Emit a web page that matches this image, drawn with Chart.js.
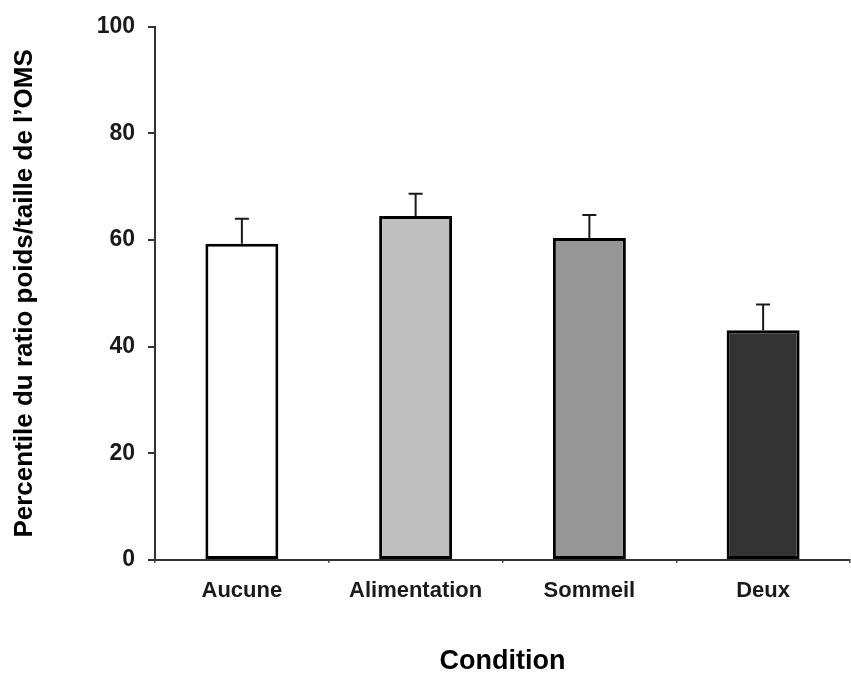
<!DOCTYPE html>
<html>
<head>
<meta charset="utf-8">
<script src="https://cdn.jsdelivr.net/npm/chart.js@4/dist/chart.umd.min.js"></script>
<style>
  html, body { margin: 0; padding: 0; background: #fff; }
  #wrap { width: 851px; height: 674px; }
</style>
</head>
<body>
<div id="wrap"><canvas id="c" width="851" height="674"></canvas></div>
<script>
const categories = ["Aucune", "Alimentation", "Sommeil", "Deux"];
const means = [59.3, 64.5, 60.4, 43.1];
const errors = [4.7, 4.2, 4.3, 4.8];
const barColors = ["#ffffff", "#bfbfbf", "#969696", "#333333"];
const yTicks = [0, 20, 40, 60, 80, 100];
const yTitle = "Percentile du ratio poids/taille de l\u2019OMS";
const xTitle = "Condition";

const FONT = "'Liberation Sans', Arial, sans-serif";

const bgPlugin = {
  id: 'bg',
  beforeDraw(chart) {
    const ctx = chart.ctx;
    ctx.save();
    ctx.fillStyle = '#ffffff';
    ctx.fillRect(0, 0, chart.width, chart.height);
    ctx.restore();
  }
};

const errorBarPlugin = {
  id: 'errorBars',
  afterDatasetsDraw(chart) {
    const ctx = chart.ctx;
    const meta = chart.getDatasetMeta(0);
    const yScale = chart.scales.y;
    ctx.save();
    ctx.strokeStyle = '#1a1a1a';
    ctx.lineWidth = 2;
    meta.data.forEach((bar, i) => {
      const x = bar.x;
      const yTop = yScale.getPixelForValue(means[i] + errors[i]);
      const yBar = yScale.getPixelForValue(means[i]);
      ctx.beginPath();
      ctx.moveTo(x, yBar);
      ctx.lineTo(x, yTop);
      ctx.moveTo(x - 7, yTop);
      ctx.lineTo(x + 7, yTop);
      ctx.stroke();
    });
    ctx.restore();
  }
};

new Chart(document.getElementById('c'), {
  type: 'bar',
  data: {
    labels: categories,
    datasets: [{
      data: means,
      backgroundColor: barColors,
      borderColor: '#000000',
      borderWidth: 3,
      borderSkipped: false,
      barPercentage: 1,
      categoryPercentage: 0.42
    }]
  },
  options: {
    responsive: false,
    animation: false,
    devicePixelRatio: 1,
    layout: { padding: { top: 25, left: 0, right: 1, bottom: 0 } },
    plugins: {
      legend: { display: false },
      tooltip: { enabled: false }
    },
    scales: {
      y: {
        min: 0,
        max: 100,
        afterFit(scale) { scale.width = 155; },
        afterBuildTicks(scale) { scale.ticks = yTicks.map(v => ({ value: v })); },
        ticks: {
          color: '#1a1a1a',
          padding: 13,
          font: { family: FONT, size: 23, weight: 'bold' }
        },
        grid: {
          drawOnChartArea: false,
          drawTicks: true,
          tickLength: 7,
          color: '#333333',
          lineWidth: 2
        },
        border: { display: true, color: '#333333', width: 2 },
        title: {
          display: true,
          text: yTitle,
          color: '#000000',
          padding: { top: 9, bottom: 0 },
          font: { family: FONT, size: 26, weight: 'bold' }
        }
      },
      x: {
        afterFit(scale) { scale.height = 114; },
        ticks: {
          color: '#1a1a1a',
          padding: 15,
          font: { family: FONT, size: 22, weight: 'bold' }
        },
        grid: {
          offset: true,
          drawOnChartArea: false,
          drawTicks: true,
          tickLength: 3,
          color: '#555555',
          lineWidth: 1.5
        },
        border: { display: true, color: '#333333', width: 2, dash: [2, 2] },
        title: {
          display: true,
          text: xTitle,
          color: '#000000',
          padding: { top: 0, bottom: 0 },
          font: { family: FONT, size: 27, weight: 'bold', lineHeight: 0.9 }
        }
      }
    }
  },
  plugins: [bgPlugin, errorBarPlugin]
});
</script>
</body>
</html>
